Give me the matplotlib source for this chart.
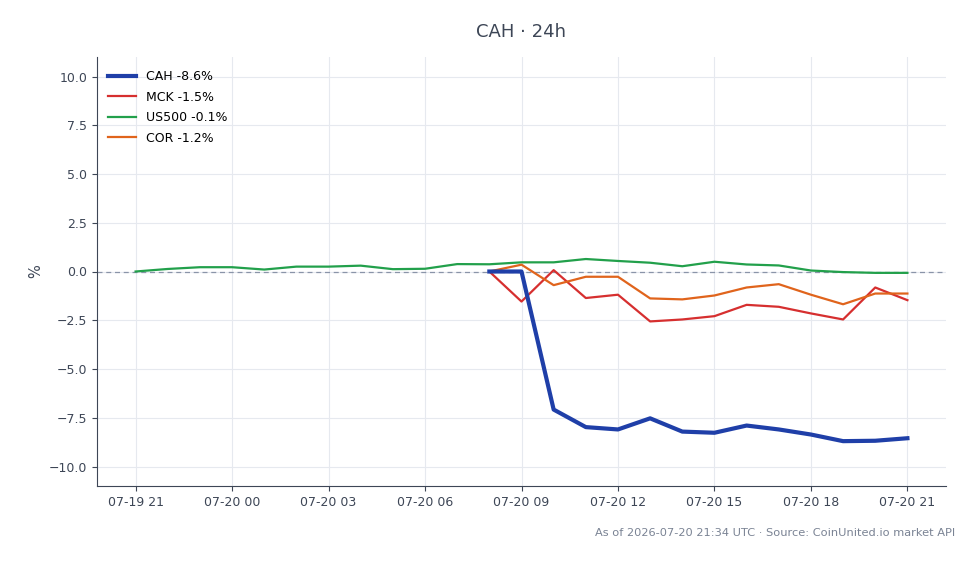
import matplotlib
matplotlib.use("Agg")
import matplotlib.pyplot as plt
import matplotlib.dates as mdates
import pandas as pd

plt.rcParams['font.family'] = ['DejaVu Sans']

start = pd.Timestamp("2026-07-19 21:00")
times_us = pd.date_range(start, periods=25, freq="h")
times_stk = pd.date_range(pd.Timestamp("2026-07-20 08:00"), periods=14, freq="h")

us500 = [0.0, 0.13, 0.22, 0.22, 0.1, 0.25, 0.25, 0.3, 0.12, 0.14, 0.38, 0.37,
         0.47, 0.47, 0.64, 0.54, 0.45, 0.27, 0.5, 0.36, 0.31, 0.05, -0.03, -0.07, -0.07]
cah = [0.0, 0.0, -7.08, -7.98, -8.1, -7.53, -8.21, -8.27, -7.9, -8.1, -8.36, -8.7, -8.68, -8.55]
mck = [0.0, -1.54, 0.07, -1.36, -1.19, -2.56, -2.46, -2.29, -1.71, -1.81, -2.15, -2.46, -0.82, -1.47]
cor = [0.0, 0.35, -0.7, -0.27, -0.27, -1.38, -1.43, -1.23, -0.82, -0.65, -1.19, -1.68, -1.13, -1.13]

labels = ["CAH -8.6%", "MCK -1.5%", "US500 -0.1%", "COR -1.2%"]
colors = ["#1f3fa8", "#d62f2f", "#22a04b", "#e0641c"]

fig = plt.figure(figsize=(9.78, 5.64), dpi=100)
ax = fig.add_axes([97/978, 1-486/564, (946-97)/978, (486-57)/564])

ax.plot(times_stk, cah, color=colors[0], lw=3, label=labels[0], zorder=5)
ax.plot(times_stk, mck, color=colors[1], lw=1.6, label=labels[1], zorder=4)
ax.plot(times_us, us500, color=colors[2], lw=1.6, label=labels[2], zorder=3)
ax.plot(times_stk, cor, color=colors[3], lw=1.6, label=labels[3], zorder=4)
ax.axhline(0, color="#8a94a8", lw=0.9, ls=(0, (4, 3)), zorder=2)

ax.set_ylim(-11, 11)
ax.set_yticks([-10, -7.5, -5, -2.5, 0, 2.5, 5, 7.5, 10])
ax.yaxis.set_major_formatter(matplotlib.ticker.FuncFormatter(
    lambda v, p: f"{v:.1f}".replace("-", "\u2212")))
ax.xaxis.set_major_locator(mdates.HourLocator(byhour=[0, 3, 6, 9, 12, 15, 18, 21]))
ax.xaxis.set_major_formatter(mdates.DateFormatter('%m-%d %H'))
ax.margins(x=0.05)

ax.grid(True, color="#e6e9ef", lw=0.8)
ax.set_axisbelow(True)
for s in ["top", "right"]:
    ax.spines[s].set_visible(False)
for s in ["left", "bottom"]:
    ax.spines[s].set_color("#3d4656")
ax.tick_params(colors="#3d4656", labelsize=9, labelcolor="#3d4656")
ax.set_ylabel("%", color="#3d4656", fontsize=10.5)

leg = ax.legend(loc="upper left", frameon=False, fontsize=9, handlelength=2.2,
                labelspacing=0.6, borderaxespad=0.0, handletextpad=0.85,
                bbox_to_anchor=(0.005, 0.985), borderpad=0.55)

fig.text(0.533, 1-32/564, "CAH · 24h", ha="center", va="center", fontsize=13, color="#3d4656")
fig.text(955/978, 1-533/564, "As of 2026-07-20 21:34 UTC · Source: CoinUnited.io market API",
         ha="right", va="center", fontsize=8.2, color="#7a8394")

fig.savefig("out.png", dpi=100)
